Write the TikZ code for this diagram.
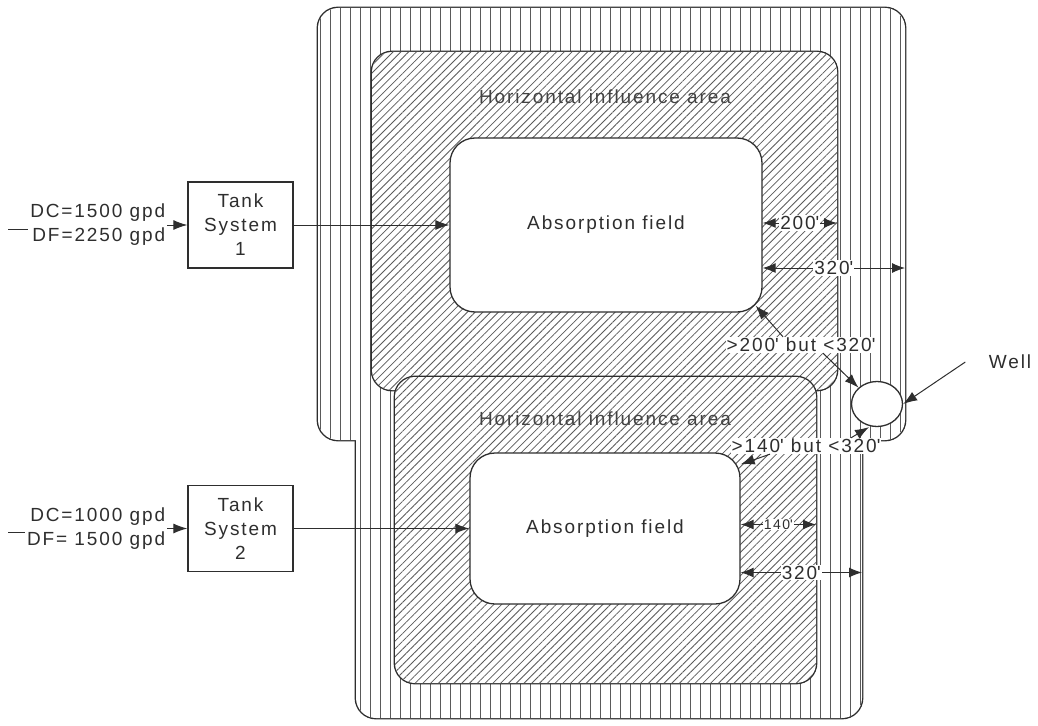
\documentclass[tikz,border=0pt]{standalone}
\usepackage{fontspec}
\setmainfont{Liberation Sans}[LetterSpace=10]
\usetikzlibrary{arrows.meta, patterns.meta, positioning, shapes.geometric}
\definecolor{inkgray}{HTML}{2E2E2E}
\definecolor{hatchgray}{HTML}{5A5A5A}
\newcommand{\feet}{\textquotesingle}

\begin{document}
\begin{tikzpicture}[%
  x=1pt, y=-1pt, font=\fontsize{19}{24}\selectfont, text=inkgray,%
  arealine/.style={draw=inkgray, line width=2.8pt, rounded corners=20pt},%
  vhatch/.style={pattern={Lines[angle=90, distance=10pt, line width=0.8pt]}, pattern color=hatchgray},%
  dhatch/.style={pattern={Lines[angle=45, distance=5.5pt, line width=0.8pt]}, pattern color=hatchgray},%
  tankbox/.style={rectangle, draw=inkgray, line width=1.3pt, fill=white, minimum width=105pt, minimum height=86pt, align=center},%
  fieldbox/.style={rectangle, draw=inkgray, line width=1.3pt, fill=white, rounded corners=25pt},%
  inlabel/.style={align=right, inner sep=2pt},%
  notelabel/.style={fill=white, inner sep=1pt},%
  flowarrow/.style={draw=inkgray, line width=1pt, -{Latex[length=14pt, width=10pt]}},%
  dimarrow/.style={draw=inkgray, line width=1pt, {Latex[length=13pt, width=10pt]}-{Latex[length=13pt, width=10pt]}}%
]
  \useasboundingbox (0,0) rectangle (1038,725);
  % region corners
  \coordinate (outA1) at (318,8);    \coordinate (outA2) at (905,440);
  \coordinate (outB1) at (356,360);  \coordinate (outB2) at (862,718);
  \coordinate (infl1a) at (372,52);  \coordinate (infl1b) at (837,390);
  \coordinate (infl2a) at (395,377); \coordinate (infl2b) at (816,683);
  % outer vertical hatch
  \draw[arealine] (outA1) rectangle (outA2);
  \draw[arealine] (outB1) rectangle (outB2);
  \fill[white, rounded corners=20pt] (outA1) rectangle (outA2) (outB1) rectangle (outB2);
  \fill[vhatch, rounded corners=20pt] (outA1) rectangle (outA2) (outB1) rectangle (outB2);
  % horizontal influence areas
  \draw[arealine] (infl1a) rectangle (infl1b);
  \fill[white, rounded corners=20pt] (infl1a) rectangle (infl1b);
  \fill[dhatch, rounded corners=20pt] (infl1a) rectangle (infl1b);
  \draw[arealine] (infl2a) rectangle (infl2b);
  \fill[white, rounded corners=20pt] (infl2a) rectangle (infl2b);
  \fill[dhatch, rounded corners=20pt] (infl2a) rectangle (infl2b);
  \node[text=inkgray!90] (infl1) at (605,97) {Horizontal influence area};
  \node[text=inkgray!90] (infl2) at (605,419) {Horizontal influence area};

  \node[fieldbox, minimum width=312pt, minimum height=174pt] (abs1) at (606,225) {Absorption field};
  \node[fieldbox, minimum width=270pt, minimum height=151pt] (abs2) at (605,528.5) {Absorption field};
  \node[tankbox] (tank1) at (240.5,225) {Tank\\System\\1};
  \node[tankbox] (tank2) at (240.5,528.5) {Tank\\System\\2};
  \node[inlabel, left=20pt of tank1] (in1) {DC=1500 gpd\\DF=2250 gpd};
  \node[inlabel, left=20pt of tank2] (in2) {DC=1000 gpd\\DF= 1500 gpd};
  \coordinate (src1) at (8,229);
  \coordinate (src2) at (8,532);
  \node[ellipse, draw=inkgray, line width=1.3pt, fill=white, minimum width=51pt, minimum height=45pt] (well) at (877,404) {};
  \node (welllbl) at (1010,362) {Well};

  \draw[inkgray, line width=1pt] (src1) -- (src1 -| in1.west);
  \draw[inkgray, line width=1pt] (src2) -- (src2 -| in2.west);
  \draw[flowarrow] (in1.east) -- (tank1.west);
  \draw[flowarrow] (in2.east) -- (tank2.west);
  \draw[flowarrow] (tank1) -- (abs1);
  \draw[flowarrow] (tank2) -- (abs2);

  % setback distances
  \draw[dimarrow] ([yshift=2pt]abs1.east) -- ([yshift=2pt]abs1.east -| infl1b) node[notelabel, midway] {200\feet};
  \draw[dimarrow] ([yshift=-43pt]abs1.east) -- ([yshift=-43pt]abs1.east -| outA2) node[notelabel, midway] {320\feet};
  \draw[dimarrow] ([yshift=4pt]abs2.east) -- ([yshift=4pt]abs2.east -| infl2b) node[notelabel, midway, font=\fontsize{14}{16}\selectfont] {140\feet};
  \draw[dimarrow] ([yshift=-44pt]abs2.east) -- ([yshift=-44pt]abs2.east -| outB2) node[notelabel, midway] {320\feet};

  \node[notelabel] (note1) at (801,345) {>200\feet{} but <320\feet};
  \node[notelabel] (note2) at (806,446) {>140\feet{} but <320\feet};
  \draw[flowarrow] ([xshift=-18pt]note1.north) -- ([xshift=-7pt, yshift=7pt]abs1.south east);
  \draw[flowarrow] ([xshift=22pt]note1.south) -- (well.north west);
  \draw[flowarrow] ([xshift=45pt]note2.north) -- ([xshift=-8pt]well.south);
  \draw[flowarrow] ([xshift=-36pt]note2.south) -- ([yshift=-12pt]abs2.north east);
  \draw[flowarrow] ([xshift=-20pt]welllbl.west) -- (well.east);
\end{tikzpicture}
\end{document}
